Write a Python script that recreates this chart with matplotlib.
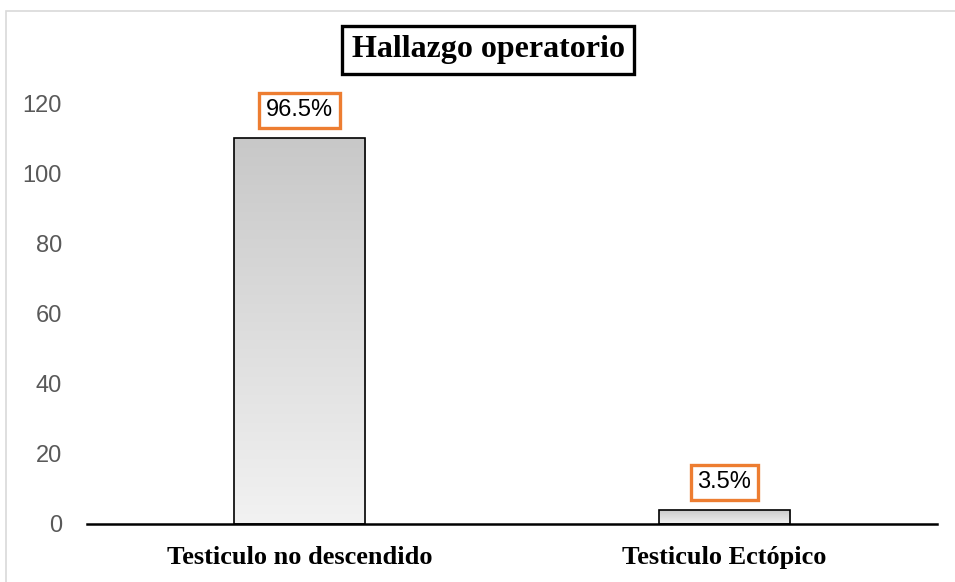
import numpy as np
import matplotlib
matplotlib.use('Agg')
import matplotlib.pyplot as plt
from matplotlib.patches import Rectangle

categories = ['Testiculo no descendido', 'Testiculo Ectópico']
counts = [110, 4]
pct_labels = ['96.5%', '3.5%']
yticks = [0, 20, 40, 60, 80, 100, 120]

fig = plt.figure(figsize=(9.55, 5.82), dpi=100)
fig.patch.set_facecolor('white')
# light grey frame around the chart area
fig.patches.append(Rectangle((6 / 955, -0.05), 1.0, 1 - 11 / 582 + 0.05,
                             transform=fig.transFigure, fill=False,
                             edgecolor='#d9d9d9', linewidth=1.2))

ax = fig.add_axes([87 / 955, 58 / 582, 850 / 955, 421 / 582])
x = np.arange(len(categories))
bars = ax.bar(x, counts, width=0.31, color='none', edgecolor='black',
              linewidth=1.2, zorder=3)

# vertical grey gradient inside each bar
grad = np.linspace(0, 1, 256).reshape(-1, 1)
cmap = matplotlib.colors.LinearSegmentedColormap.from_list('g', ['#f2f2f2', '#c8c8c8'])
for b in bars:
    x0, y0 = b.get_x(), b.get_y()
    w, h = b.get_width(), b.get_height()
    im = ax.imshow(grad, extent=[x0, x0 + w, y0, y0 + h], origin='lower',
                   cmap=cmap, aspect='auto', zorder=2)
    im.set_clip_path(b)

for b, lab in zip(bars, pct_labels):
    ax.annotate(lab, (b.get_x() + b.get_width() / 2, b.get_height()),
                xytext=(0, 20), textcoords='offset points',
                ha='center', va='center', fontsize=17, family='Liberation Sans',
                color='black', annotation_clip=False,
                bbox=dict(boxstyle='square,pad=0.28', fc='white',
                          ec='#ED7D31', lw=2.4))

ax.set_xlim(-0.5, 1.5)
ax.set_ylim(0, 120)
ax.set_yticks(yticks)
ax.set_xticks(x)
ax.set_xticklabels(categories, fontsize=19, fontweight='bold',
                   family='Liberation Serif')
for t in ax.get_yticklabels():
    t.set_family('Liberation Sans')
    t.set_fontsize(17)
    t.set_color('#595959')
ax.tick_params(axis='y', length=0, pad=18)
ax.tick_params(axis='x', length=0, pad=16)
for s in ['top', 'right', 'left']:
    ax.spines[s].set_visible(False)
ax.spines['bottom'].set_linewidth(1.8)
ax.spines['bottom'].set_zorder(4)

fig.text(488 / 955, 1 - 50 / 582, 'Hallazgo operatorio', ha='center', va='center',
         fontsize=23, fontweight='bold', family='Liberation Serif',
         bbox=dict(boxstyle='square,pad=0.3', fc='white', ec='black', lw=2.4))

fig.savefig('out.png', dpi=100)
